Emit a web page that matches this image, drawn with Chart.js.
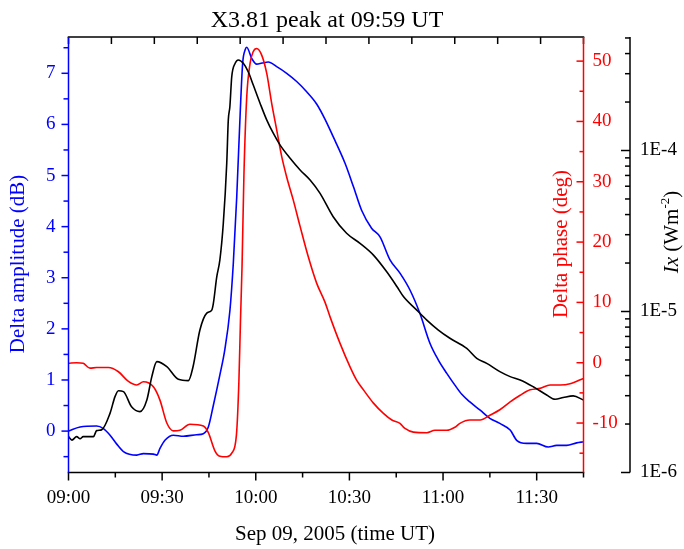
<!DOCTYPE html>
<html>
<head>
<meta charset="utf-8">
<title>X3.81 peak at 09:59 UT</title>
<script src="https://cdn.jsdelivr.net/npm/chart.js@4"></script>
<style>
  body { margin: 0; background: #fff; }
  canvas { display: block; }
</style>
</head>
<body>
<canvas id="myChart" width="684" height="549"></canvas>
<script>
/* global Chart */
// time is minutes after 09:00 UT
let timeTicks = [0, 30, 60, 90, 120, 150];
let timeLabels = ["09:00", "09:30", "10:00", "10:30", "11:00", "11:30"];
let ampTicks = [0, 1, 2, 3, 4, 5, 6, 7];
let phaseTicks = [-10, 0, 10, 20, 30, 40, 50];
let ixTicks = [1e-6, 1e-5, 1e-4];
let ixLabels = ["1E-6", "1E-5", "1E-4"];

// Delta amplitude (dB)
let ampTime = [0, 3.7, 9.0, 11.2, 13.3, 15.4, 17.6, 21.9, 24.0, 27.2, 28.3, 29.3, 30.9, 33.6, 36.8, 41.1, 43.2, 44.8, 46.4, 48.5,
  50.1, 51.7, 52.8, 53.9, 55.0, 55.8, 56.6, 57.1, 58.7, 60.3, 62.0, 64.0, 66.7, 69.9, 73.1, 76.3, 79.5, 82.2, 84.8, 88.6,
  91.3, 93.9, 97.1, 99.8, 103.0, 106.2, 109.4, 112.6, 115.8, 118.5, 121.2, 123.8, 126.0, 128.6, 131.9, 135.0, 138.2, 141.5, 143.6, 146.8,
  150.0, 153.7, 156.4, 159.6, 162.8, 165];
let ampValue = [0.0, 0.08, 0.1, 0.05, -0.08, -0.25, -0.4, -0.47, -0.44, -0.45, -0.47, -0.34, -0.18, -0.08, -0.1, -0.07, -0.05, 0.08, 0.5, 1.1,
  1.6, 2.35, 3.28, 4.58, 6.21, 7.2, 7.46, 7.51, 7.29, 7.18, 7.2, 7.22, 7.13, 7.0, 6.84, 6.64, 6.4, 6.1, 5.76, 5.24,
  4.78, 4.32, 3.97, 3.8, 3.35, 3.09, 2.76, 2.3, 1.72, 1.39, 1.13, 0.9, 0.72, 0.57, 0.41, 0.25, 0.15, 0.02, -0.18, -0.24,
  -0.24, -0.31, -0.28, -0.28, -0.23, -0.21];

// Delta phase (deg)
let phaseTime = [0, 2.6, 4.7, 6.9, 9.0, 12.8, 16.0, 19.2, 21.9, 24.0, 27.2, 29.3, 31.5, 33.6, 35.7, 38.9, 43.2, 44.8, 46.9, 48.5,
  50.7, 52.3, 53.8, 54.6, 55.1, 55.6, 56.2, 57.1, 58.2, 59.2, 60.3, 61.9, 63.5, 65.1, 66.7, 68.3, 69.9, 72.0, 74.2, 76.8,
  79.5, 82.2, 83.8, 87.0, 90.2, 92.3, 94.5, 97.7, 100.9, 103.6, 106.2, 107.8, 110.5, 114.8, 117.4, 121.2, 123.8, 125.4, 128.6, 131.9,
  135.0, 138.2, 141.5, 144.7, 147.9, 151.1, 154.3, 157.5, 160.7, 165];
let phaseValue = [-0.1, 0, -0.1, -0.9, -0.8, -0.8, -1.5, -3.1, -3.7, -3.15, -4.0, -6.2, -10.0, -11.3, -11.2, -10.2, -10.5, -11.6, -14.6, -15.5,
  -15.6, -15.0, -12.0, -3.0, 7.0, 16.0, 31.0, 44.0, 49.7, 51.6, 52.1, 51.0, 48.0, 43.0, 38.6, 34.2, 30.8, 27.0, 22.6, 17.6,
  13.2, 10.0, 7.6, 3.2, -0.7, -2.9, -4.5, -6.7, -8.4, -9.5, -10.05, -10.9, -11.5, -11.6, -11.2, -11.2, -10.7, -10.05, -9.5, -9.5,
  -8.7, -7.8, -6.5, -5.4, -4.5, -4.25, -3.7, -3.7, -3.5, -2.6];

// GOES X-ray flux Ix (W m^-2)
let ixTime = [0, 1.1, 2.6, 3.7, 4.7, 8.0, 9.0, 10.6, 13.3, 14.9, 16.0, 17.6, 20.2, 22.9, 25.1, 26.7, 28.3, 31.5, 35.2, 38.4,
  39.9, 42.1, 44.3, 45.9, 46.4, 47.5, 48.5, 49.6, 50.7, 51.2, 51.7, 52.3, 53.4, 54.4, 56.0, 57.6, 59.2, 61.4, 63.5, 65.6,
  67.8, 71.0, 74.2, 77.4, 80.6, 84.8, 89.1, 93.4, 97.7, 101.9, 105.2, 107.3, 111.6, 114.8, 118.5, 122.2, 127.6, 130.8, 134.0, 138.2,
  141.5, 144.7, 148.9, 153.2, 155.9, 158.5, 161.7, 165];
let ixValue = [1.67e-6, 1.59e-6, 1.67e-6, 1.62e-6, 1.67e-6, 1.67e-6, 1.82e-6, 1.84e-6, 2.33e-6, 2.96e-6, 3.22e-6, 3.18e-6, 2.56e-6, 2.39e-6, 2.82e-6, 3.94e-6, 4.88e-6, 4.54e-6, 3.79e-6, 3.72e-6,
  4.54e-6, 7.67e-6, 9.77e-6, 1.02e-5, 1.12e-5, 1.64e-5, 2.09e-5, 3.53e-5, 8.34e-5, 1.55e-4, 1.87e-4, 2.87e-4, 3.48e-4, 3.65e-4, 3.48e-4, 3.08e-4, 2.55e-4, 1.96e-4, 1.55e-4, 1.28e-4,
  1.08e-4, 8.95e-5, 7.57e-5, 6.56e-5, 5.42e-5, 3.88e-5, 3.06e-5, 2.65e-5, 2.24e-5, 1.77e-5, 1.43e-5, 1.24e-5, 1.02e-5, 8.85e-6, 7.67e-6, 6.82e-6, 5.90e-6, 5.12e-6, 4.76e-6, 4.23e-6,
  3.94e-6, 3.76e-6, 3.41e-6, 3.03e-6, 2.85e-6, 2.92e-6, 2.99e-6, 2.82e-6];

function points(xs, ys) {
  return xs.map((t, i) => ({ x: t, y: ys[i] }));
}

const serif = "'Liberation Serif', 'Times New Roman', serif";
const tickFont = { family: serif, size: 19 };
const noGrid = { display: false, drawTicks: false };

// axis lines, ticks and titles drawn by hand (Origin style)
const axesPlugin = {
  id: "axes",
  afterDraw(chart) {
    const c = chart.ctx;
    const a = chart.chartArea;
    const sx = chart.scales.x, st = chart.scales.xTop;
    const sa = chart.scales.yAmp, sp = chart.scales.yPhase, si = chart.scales.yIx;
    c.save();
    c.lineWidth = 1.5;
    function line(x1, y1, x2, y2, color) {
      c.strokeStyle = color;
      c.beginPath();
      c.moveTo(x1, y1);
      c.lineTo(x2, y2);
      c.stroke();
    }
    // bottom
    line(a.left - 0.75, a.bottom, a.right + 0.75, a.bottom, "#000");
    for (let m = 0; m <= 165; m += 15) {
      const px = sx.getPixelForValue(m);
      line(px, a.bottom, px, a.bottom + (m % 30 === 0 ? 8 : 5), "#000");
    }
    // top
    line(a.left - 0.75, a.top, a.right + 0.75, a.top, "#000");
    for (let k = 0; k <= 12; k++) {
      const px = st.getPixelForValue(k);
      line(px, a.top, px, a.top + 7, "#000");
    }
    // left, amplitude
    line(a.left, a.top, a.left, a.bottom, "#0000ff");
    for (let v = -0.5; v <= 7.5; v += 0.5) {
      const py = sa.getPixelForValue(v);
      line(a.left, py, a.left - (Number.isInteger(v) ? 7 : 5), py, "#0000ff");
    }
    // right, phase
    line(a.right, a.top, a.right, a.bottom, "#ff0000");
    for (let v = -15; v <= 50; v += 5) {
      const py = sp.getPixelForValue(v);
      line(a.right, py, a.right - (v % 10 === 0 ? 7 : 4), py, "#ff0000");
    }
    // outer right, Ix log axis
    const ix = si.left;
    line(ix, a.top, ix, a.bottom, "#000");
    for (let d = -6; d <= -4; d++) {
      for (let m = 1; m <= 9; m++) {
        const v = m * Math.pow(10, d);
        if (v > si.max * 1.001) continue;
        const py = si.getPixelForValue(v);
        line(ix, py, ix - (m === 1 ? 9 : 5), py, "#000");
      }
    }

    // titles
    c.textBaseline = "alphabetic";
    c.fillStyle = "#000";
    c.font = "24px " + serif;
    c.textAlign = "center";
    c.fillText("X3.81 peak at 09:59 UT", 327, 27);

    c.font = "21px " + serif;
    c.textAlign = "left";
    c.fillText("Sep 09, 2005 (time UT)", 235, 540);

    c.textAlign = "center";
    c.textBaseline = "middle";
    c.save();
    c.translate(18, 264);
    c.rotate(-Math.PI / 2);
    c.fillStyle = "#0000ff";
    c.fillText("Delta amplitude (dB)", 0, 0);
    c.restore();

    c.save();
    c.translate(561, 244);
    c.rotate(-Math.PI / 2);
    c.fillStyle = "#ff0000";
    c.fillText("Delta phase (deg)", 0, 0);
    c.restore();

    // Ix (Wm^-2) with italic Ix and superscript
    c.save();
    c.translate(671, 232);
    c.rotate(-Math.PI / 2);
    c.textAlign = "left";
    c.textBaseline = "alphabetic";
    const parts = [
      { t: "Ix", f: "italic 21px " + serif, dy: 0 },
      { t: " (Wm", f: "21px " + serif, dy: 0 },
      { t: "-2", f: "13px " + serif, dy: -9 },
      { t: ")", f: "21px " + serif, dy: 0 }
    ];
    let w = 0;
    parts.forEach(p => { c.font = p.f; p.w = c.measureText(p.t).width; w += p.w; });
    let px = -w / 2;
    parts.forEach(p => { c.font = p.f; c.fillText(p.t, px, 7 + p.dy); px += p.w; });
    c.restore();

    c.restore();
  }
};

var ctx = document.getElementById("myChart").getContext("2d");
var myChart = new Chart(ctx, {
  type: "line",
  data: {
    datasets: [
      {
        label: "Ix",
        data: points(ixTime, ixValue),
        yAxisID: "yIx",
        borderColor: "#000000",
        borderWidth: 1.6,
      },
      {
        label: "Delta phase",
        data: points(phaseTime, phaseValue),
        yAxisID: "yPhase",
        borderColor: "#ff0000",
        borderWidth: 1.6,
      },
      {
        label: "Delta amplitude",
        data: points(ampTime, ampValue),
        yAxisID: "yAmp",
        borderColor: "#0000ff",
        borderWidth: 1.6,
      },
    ],
  },
  options: {
    responsive: false,
    animation: false,
    devicePixelRatio: 1,
    layout: { padding: 0 },
    elements: {
      point: { radius: 0 },
      line: { cubicInterpolationMode: "monotone", fill: false },
    },
    plugins: {
      legend: { display: false },
      title: { display: false },
      tooltip: { enabled: false },
    },
    scales: {
      x: {
        type: "linear",
        position: "bottom",
        min: 0,
        max: 165,
        grid: noGrid,
        border: { display: false },
        afterBuildTicks: (s) => { s.ticks = timeTicks.map((v) => ({ value: v })); },
        afterFit: (s) => { s.height = 76.5; },
        ticks: {
          autoSkip: false,
          maxRotation: 0,
          padding: 14,
          color: "#000",
          font: tickFont,
          callback: (v, i) => timeLabels[i],
        },
      },
      xTop: {
        type: "linear",
        position: "top",
        min: 0,
        max: 12,
        grid: noGrid,
        border: { display: false },
        ticks: { display: false },
        afterFit: (s) => { s.height = 37; },
      },
      yAmp: {
        type: "linear",
        position: "left",
        min: -0.81,
        max: 7.71,
        grid: noGrid,
        border: { display: false },
        afterBuildTicks: (s) => { s.ticks = ampTicks.map((v) => ({ value: v })); },
        afterFit: (s) => { s.width = 68.5; },
        ticks: { padding: 13, color: "#0000ff", font: tickFont },
      },
      yPhase: {
        type: "linear",
        position: "right",
        weight: 0,
        min: -18.2,
        max: 54.0,
        grid: noGrid,
        border: { display: false },
        afterBuildTicks: (s) => { s.ticks = phaseTicks.map((v) => ({ value: v })); },
        afterFit: (s) => { s.width = 46.5; },
        ticks: { padding: 9, color: "#ff0000", font: tickFont },
      },
      yIx: {
        type: "logarithmic",
        position: "right",
        weight: 1,
        min: 1e-6,
        max: 5.07e-4,
        grid: noGrid,
        border: { display: false },
        afterBuildTicks: (s) => { s.ticks = ixTicks.map((v) => ({ value: v })); },
        afterFit: (s) => { s.width = 54; },
        ticks: {
          padding: 10,
          color: "#000",
          font: tickFont,
          callback: (v, i) => ixLabels[i],
        },
      },
    },
  },
  plugins: [axesPlugin],
});
</script>
</body>
</html>
